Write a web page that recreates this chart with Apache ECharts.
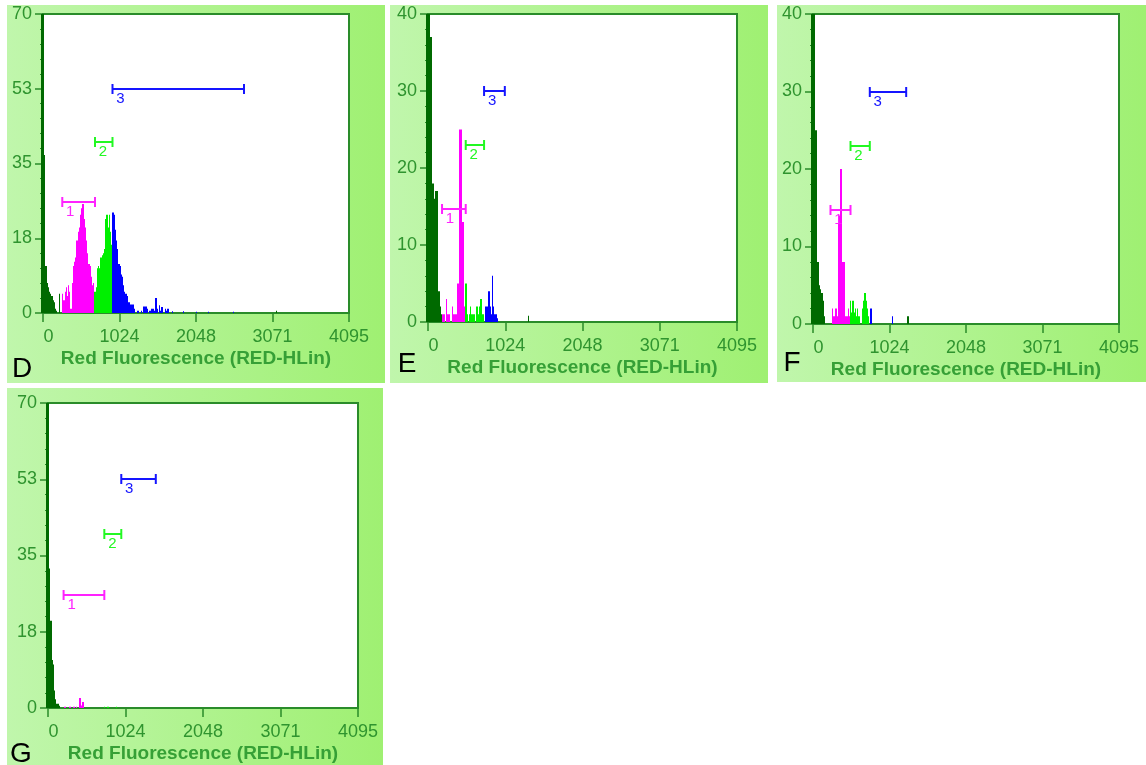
<!DOCTYPE html>
<html>
<head>
<meta charset="utf-8">
<script src="https://cdn.jsdelivr.net/npm/echarts@6/dist/echarts.min.js"></script>
<style>
html, body { margin: 0; padding: 0; background: #fff; }
#chart { width: 1146px; height: 765px; }
</style>
</head>
<body>
<div id="chart"></div>
<script>
// width of one histogram channel, in RED-HLin units
var BIN = 16;
var xTickLabels = ['0', '1024', '2048', '3071', '4095'];
var yTickLabels70 = ['0', '18', '35', '53', '70'];
var yTickLabels40 = ['0', '10', '20', '30', '40'];
var panelLetters = ['D', 'E', 'F', 'G'];
var axisTitle = 'Red Fluorescence (RED-HLin)';

// counts per channel, starting at channel 0
var countsD = [70, 37, 11, 7, 6, 5, 4.5, 4, 3, 2.5,
  1, 0.5, 0, 4.5, 0, 0, 4.5, 3, 5, 6,
  4, 6.5, 5, 1, 7, 11, 12, 13, 17, 19,
  20, 23, 24.5, 25.5, 22, 20, 17, 14, 11.5, 11,
  8.5, 6.5, 7, 5, 6, 10.5, 11, 10.5, 13, 13.5,
  14, 15, 22, 23, 20, 23, 19, 16, 23.5, 23,
  19.5, 17, 15, 11.5, 11, 9, 8.5, 6.5, 5, 4.5,
  4, 2.5, 2.5, 2, 2, 2, 1, 0, 0, 0.5,
  0, 0, 0.5, 0, 1.5, 1.5, 1.5, 1, 0, 0.5,
  1, 1, 1, 0.5, 3.5, 1, 0, 1.8, 0.5, 1.4,
  0, 0, 1, 0.5, 1];
var strayBinsD = [108, 117, 128, 138, 159, 195];
var strayCountsD = [0.4, 0.4, 0.3, 0.3, 0.3, 0.5];

var countsE = [40, 40, 37, 18, 18, 16, 17, 17, 4, 4,
  2, 1, 1, 1, 0, 3, 1, 1, 0, 0,
  2, 1, 1, 1, 5, 5, 25, 25, 13, 13,
  2, 5, 1, 0, 1, 2, 1, 1, 1, 0,
  2, 1, 2, 3, 3, 1, 0, 2, 2, 2,
  4, 2, 1, 6, 2, 1, 1, 0.5];
var strayBinsE = [83];
var strayCountsE = [0.8];

var countsF = [40, 40, 25, 8, 8, 5, 4.5, 4, 3, 1,
  0, 0, 0, 0, 0, 0, 2, 1, 2, 2,
  1, 14, 14, 20, 8, 8, 8, 1, 1, 2,
  1, 3, 1.5, 3, 1.5, 2, 1, 2, 1, 0,
  0, 2, 3, 4, 3, 2, 1, 0, 2];
var strayBinsF = [66, 79];
var strayCountsF = [1, 1];

var countsG = [70, 32, 20, 11, 10, 4, 2, 1, 1, 0.5,
  0, 0, 0, 0.3, 0.3, 0, 0, 0.3, 0.3, 0,
  0, 0.3, 0, 0.3, 0, 0, 2.3, 0.6, 1.4, 1.4];
var strayBinsG = [46, 49, 56];
var strayCountsG = [0.3, 0.3, 0.3];

// gate markers 1, 2, 3: start, end and height
var gateStartD = [258, 696, 930];
var gateEndD = [696, 930, 2690];
var gateLevelD = [26, 40, 52.5];
var gateStartE = [186, 500, 743];
var gateEndE = [500, 743, 1018];
var gateLevelE = [14.7, 23, 30];
var gateStartF = [234, 502, 760];
var gateEndF = [502, 760, 1247];
var gateLevelF = [14.7, 23, 30];
var gateStartG = [206, 744, 968];
var gateEndG = [744, 968, 1424];
var gateLevelG = [26, 40, 52.5];

var yMax = [70, 40, 40, 70];

var barColors = ['#006a00', '#ff00ff', '#00f000', '#0000ff'];
var gateColors = ['#ff22ff', '#22f822', '#1515ff'];
var axisColor = '#2a8c2a';
var labelColor = '#2f942f';
var font = '"Liberation Sans", Arial, sans-serif';

function binsToData(counts, strayBins, strayCounts, gs, ge) {
  var out = [];
  function push(i, c) {
    if (!c) return;
    var x = i * BIN, mid = x + BIN / 2, g = -1;
    for (var k = 0; k < 3; k++) if (mid >= gs[k] && mid < ge[k]) g = k;
    out.push([x, c, g + 1]);
  }
  counts.forEach(function (c, i) { push(i, c); });
  strayBins.forEach(function (b, j) { push(b, strayCounts[j]); });
  return out;
}

function barRenderer(ymax) {
  return function (params, api) {
    var x = api.value(0), v = Math.min(api.value(1), ymax);
    var p0 = api.coord([x, 0]), p1 = api.coord([x + BIN, v]);
    var l = Math.round(p0[0]);
    var r = Math.max(Math.round(p1[0]), l + 1);
    // first channel sits on the axis line, widen it so it stays visible
    if (x === 0) { l -= 2; }
    return {
      type: 'rect',
      shape: { x: l, y: p1[1], width: r - l, height: p0[1] - p1[1] },
      style: { fill: barColors[api.value(2)] }
    };
  };
}

function renderGate(params, api) {
  var a = api.coord([api.value(0), api.value(2)]);
  var b = api.coord([api.value(1), api.value(2)]);
  var c = gateColors[params.dataIndex];
  var y = Math.round(a[1]);
  var ls = { stroke: c, lineWidth: 2 };
  return {
    type: 'group',
    children: [
      { type: 'line', shape: { x1: a[0], y1: y, x2: b[0], y2: y }, style: ls },
      { type: 'line', shape: { x1: a[0], y1: y - 5, x2: a[0], y2: y + 5 }, style: ls },
      { type: 'line', shape: { x1: b[0], y1: y - 5, x2: b[0], y2: y + 5 }, style: ls },
      { type: 'text', style: { text: String(params.dataIndex + 1), x: a[0] + 8, y: y + 10,
        fill: c, font: '15px ' + font, align: 'center', verticalAlign: 'middle' } }
    ]
  };
}

var panels = [
  { counts: countsD, sb: strayBinsD, sc: strayCountsD, gs: gateStartD, ge: gateEndD, gl: gateLevelD, yl: yTickLabels70 },
  { counts: countsE, sb: strayBinsE, sc: strayCountsE, gs: gateStartE, ge: gateEndE, gl: gateLevelE, yl: yTickLabels40 },
  { counts: countsF, sb: strayBinsF, sc: strayCountsF, gs: gateStartF, ge: gateEndF, gl: gateLevelF, yl: yTickLabels40 },
  { counts: countsG, sb: strayBinsG, sc: strayCountsG, gs: gateStartG, ge: gateEndG, gl: gateLevelG, yl: yTickLabels70 }
];

var grids = [
  { left: 43, top: 14, width: 306, height: 299 },
  { left: 428, top: 14, width: 309, height: 308 },
  { left: 813, top: 14, width: 306, height: 310 },
  { left: 48, top: 403, width: 310, height: 305 }
];
var boxes = [[7, 5, 378, 378], [390, 5, 378, 378], [777, 5, 369, 377], [7, 388, 376, 377]];
var letterPos = [[22, 369], [407, 364], [792, 363], [21, 754]];

var option = {
  animation: false,
  grid: [],
  xAxis: [],
  yAxis: [],
  series: [],
  graphic: []
};

panels.forEach(function (p, i) {
  var g = grids[i];
  option.grid.push({ left: g.left, top: g.top, width: g.width, height: g.height,
    show: true, backgroundColor: '#fff', borderColor: axisColor, borderWidth: 2 });

  option.xAxis.push({
    type: 'value', gridIndex: i, min: 0, max: 4095, interval: 4095 / 4, z: 1,
    name: axisTitle, nameLocation: 'middle', nameGap: 36,
    nameTextStyle: { fontFamily: font, fontWeight: 'bold', fontSize: 19, color: '#36a036' },
    axisLine: { lineStyle: { color: axisColor, width: 2 } },
    axisTick: { length: 9, lineStyle: { color: axisColor, width: 1.5 } },
    splitLine: { show: false },
    axisLabel: {
      fontFamily: font, fontSize: 18, color: labelColor, margin: 15,
      formatter: function (v, idx) {
        return idx === 0 ? '{z|' + xTickLabels[0] + '}' : xTickLabels[idx];
      },
      rich: { z: { padding: [0, 0, 0, 11], fontFamily: font, fontSize: 18, color: labelColor } }
    }
  });

  option.yAxis.push({
    type: 'value', gridIndex: i, min: 0, max: yMax[i], interval: yMax[i] / 4, z: 1,
    axisLine: { show: true, lineStyle: { color: axisColor, width: 2 } },
    axisTick: { show: true, length: 8, lineStyle: { color: axisColor, width: 1.5 } },
    minorTick: { show: true, splitNumber: 5, length: 3, lineStyle: { color: axisColor, width: 1 } },
    splitLine: { show: false },
    axisLabel: {
      fontFamily: font, fontSize: 18, color: labelColor, margin: 11,
      formatter: function (v, idx) { return p.yl[idx]; }
    }
  });

  option.series.push({
    type: 'custom', xAxisIndex: i, yAxisIndex: i, clip: false, z: 10,
    renderItem: barRenderer(yMax[i]),
    encode: { x: 0, y: 1 },
    data: binsToData(p.counts, p.sb, p.sc, p.gs, p.ge)
  });

  option.series.push({
    type: 'custom', xAxisIndex: i, yAxisIndex: i, z: 12,
    renderItem: renderGate,
    encode: { x: [0, 1], y: 2 },
    data: p.gs.map(function (s, k) { return [s, p.ge[k], p.gl[k]]; })
  });

  var b = boxes[i];
  option.graphic.push({
    type: 'rect', z: -100, silent: true,
    shape: { x: b[0], y: b[1], width: b[2], height: b[3] },
    style: { fill: { type: 'linear', x: 0, y: 0, x2: 1, y2: 0,
      colorStops: [{ offset: 0, color: '#c0f6ac' }, { offset: 1, color: '#9ff072' }] } }
  });
  option.graphic.push({
    type: 'text', z: 100, silent: true,
    style: { text: panelLetters[i], x: letterPos[i][0], y: letterPos[i][1],
      font: '28px ' + font, fill: '#000', align: 'center', verticalAlign: 'middle' }
  });
});

var myChart = echarts.init(document.getElementById('chart'));
myChart.setOption(option);
window.addEventListener('resize', function () {
  myChart.resize();
});
</script>
</body>
</html>
